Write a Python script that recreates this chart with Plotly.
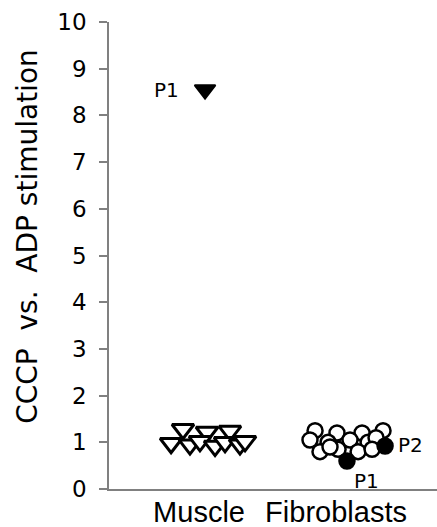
import plotly.graph_objects as go

categories = ["Muscle", "Fibroblasts"]

# Muscle (open triangles): x jitter offset (category units), value
muscle_offsets = [-0.117, 0.058, 0.226, -0.204, -0.066, 0.007, 0.117, 0.190, 0.299, 0.336]
muscle_values = [1.28, 1.22, 1.24, 0.98, 0.95, 1.02, 0.92, 1.00, 0.95, 1.02]
muscle_patient_offsets = [0.044]
muscle_patient_values = [8.55]
muscle_patient_labels = ["P1"]

# Fibroblasts (open circles)
fib_offsets = [-0.153, 0.007, 0.190, 0.343, -0.190, -0.058, 0.102, 0.234, 0.292,
               -0.117, 0.015, 0.161, 0.263, -0.044]
fib_values = [1.25, 1.20, 1.20, 1.25, 1.05, 1.00, 1.05, 1.00, 1.10,
              0.80, 0.85, 0.80, 0.85, 0.90]
fib_patient_offsets = [0.080, 0.358]
fib_patient_values = [0.60, 0.92]
fib_patient_labels = ["P1", "P2"]

y_ticks = list(range(0, 11))

fig = go.Figure()

fig.add_trace(go.Scatter(
    x=[0 + o for o in muscle_offsets], y=muscle_values, mode="markers",
    marker=dict(symbol="triangle-down", size=19, color="white",
                line=dict(color="black", width=3)),
    showlegend=False, cliponaxis=False))
fig.add_trace(go.Scatter(
    x=[0 + o for o in muscle_patient_offsets], y=muscle_patient_values, mode="markers",
    marker=dict(symbol="triangle-down", size=18, color="black",
                line=dict(color="black", width=2)),
    showlegend=False, cliponaxis=False))
fig.add_trace(go.Scatter(
    x=[1 + o for o in fib_offsets], y=fib_values, mode="markers",
    marker=dict(symbol="circle", size=15, color="white",
                line=dict(color="black", width=2.5)),
    showlegend=False, cliponaxis=False))
fig.add_trace(go.Scatter(
    x=[1 + o for o in fib_patient_offsets], y=fib_patient_values, mode="markers",
    marker=dict(symbol="circle", size=15, color="black",
                line=dict(color="black", width=2.5)),
    showlegend=False, cliponaxis=False))

label_font = dict(family="DejaVu Sans", size=20, color="black")
shifts = {("m", 0): (-39, 0), ("f", 0): (20, -20), ("f", 1): (25, 1)}
for i, lab in enumerate(muscle_patient_labels):
    dx, dy = shifts[("m", i)]
    fig.add_annotation(x=0 + muscle_patient_offsets[i], y=muscle_patient_values[i],
                       text=lab, showarrow=False, xshift=dx, yshift=dy, font=label_font)
for i, lab in enumerate(fib_patient_labels):
    dx, dy = shifts[("f", i)]
    fig.add_annotation(x=1 + fib_patient_offsets[i], y=fib_patient_values[i],
                       text=lab, showarrow=False, xshift=dx, yshift=dy, font=label_font)

# y axis title as annotation
fig.add_annotation(xref="paper", yref="paper", x=-0.247, y=0.542,
                   xanchor="center", yanchor="middle",
                   text="CCCP\u00a0 vs.\u00a0 ADP stimulation", textangle=-90, showarrow=False,
                   font=dict(family="DejaVu Sans", size=28, color="black"))

fig.update_layout(
    width=437, height=527,
    margin=dict(l=109, r=0, t=22, b=38, autoexpand=False),
    paper_bgcolor="white", plot_bgcolor="white",
    xaxis=dict(range=[-0.657, 1.737], tickmode="array", tickvals=[0, 1],
               ticktext=categories, showgrid=False, zeroline=False, automargin=False,
               showline=True, linecolor="#808080", linewidth=1.5, ticks="",
               ticklabelstandoff=-4,
               tickfont=dict(family="Liberation Sans", size=29, color="black")),
    yaxis=dict(range=[0, 10], tickmode="array", tickvals=y_ticks, automargin=False,
               showgrid=False, zeroline=False, showline=True,
               linecolor="#808080", linewidth=1.5, ticks="outside", ticklen=8,
               tickcolor="#808080", tickwidth=1.5, ticklabelstandoff=8,
               tickfont=dict(family="DejaVu Sans", size=23, color="black")),
)

fig.write_html("out.html", config={"displayModeBar": False},
               post_script="document.body.style.margin='0';document.body.style.overflow='hidden';")
